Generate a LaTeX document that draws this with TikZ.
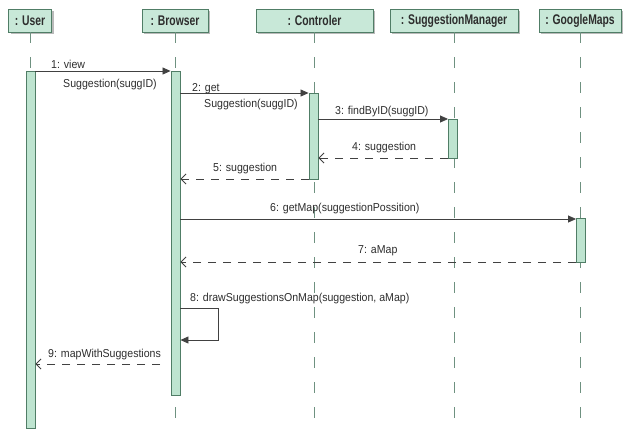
\documentclass[tikz,border=0pt]{standalone}
\usepackage{fontspec}
\setmainfont{Liberation Sans}
\newfontfamily\hdrfont[FakeStretch=0.74]{Liberation Sans}
\newfontfamily\lblfont[FakeStretch=0.92]{Liberation Sans}
\usetikzlibrary{arrows.meta,shadows}
\definecolor{boxfill}{RGB}{200,232,216}
\definecolor{boxline}{RGB}{80,125,102}
\definecolor{actfill}{RGB}{190,228,208}
\definecolor{lifeline}{RGB}{110,145,128}
\definecolor{msg}{RGB}{65,65,65}
\definecolor{txt}{RGB}{45,45,45}
\tikzset{
  header/.style={draw=boxline, fill=boxfill, line width=0.9pt, minimum height=23pt, inner sep=0pt,
    font=\hdrfont\bfseries\fontsize{14}{16}\selectfont, text=txt,
    drop shadow={shadow xshift=2pt, shadow yshift=-2pt, fill=black!45, opacity=0.6}},
  act/.style={draw=boxline, fill=actfill, line width=0.9pt, minimum width=9pt, inner sep=0pt, anchor=north},
  life/.style={draw=lifeline, line width=0.9pt, dash pattern=on 11pt off 14pt},
  call/.style={draw=msg, line width=0.8pt, -{Triangle[length=8pt,width=7pt]}},
  ret/.style={draw=msg, line width=0.8pt, dash pattern=on 8pt off 7pt, -{Straight Barb[length=5pt,width=10pt]}},
  lbl/.style={font=\lblfont\fontsize{11.5}{13}\selectfont, text=txt, inner sep=0pt, anchor=base west},
}
\begin{document}
\begin{tikzpicture}[x=1pt,y=-1pt]
\useasboundingbox (0,0) rectangle (623,432);
% headers
\node[header, minimum width=43pt] (user) at (30,20.5) {: User};
\node[header, minimum width=66pt] (browser) at (175,20.5) {: Browser};
\node[header, minimum width=117pt] (ctrl) at (314.5,20.5) {: Controler};
\node[header, minimum width=128pt] (sm) at (454,20.5) {: SuggestionManager};
\node[header, minimum width=82pt] (gm) at (580,20.5) {: GoogleMaps};
% lifelines
\coordinate (userend) at (30.5,432);
\coordinate (browserend) at (175.5,432);
\coordinate (ctrlend) at (314,432);
\coordinate (smend) at (453,432);
\coordinate (gmend) at (581,432);
\draw[life] (user.south) -- (user.south |- userend);
\draw[life] (browser.south) -- (browser.south |- browserend);
\draw[life] (ctrl.south) -- (ctrl.south |- ctrlend);
\draw[life] (sm.south) -- (sm.south |- smend);
\draw[life] (gm.south) -- (gm.south |- gmend);
% activations
\node[act, minimum height=357pt] (uact) at (30.5,71) {};
\node[act, minimum height=324pt] (bact) at (175.5,71) {};
\node[act, minimum height=86pt] (cact) at (313.5,93) {};
\node[act, minimum height=39pt] (sact) at (453,119) {};
\node[act, minimum height=44pt] (gact) at (581,218) {};
% messages
\draw[call] (uact.east |- 0,71) -- (bact.west |- 0,71);
\node[lbl] (l1a) at (51,68) {1: view};
\node[lbl] (l1b) at (63,87) {Suggestion(suggID)};
\draw[call] (bact.east |- 0,93) -- (cact.west |- 0,93);
\node[lbl] (l2a) at (192,91) {2: get};
\node[lbl] (l2b) at (204,107) {Suggestion(suggID)};
\draw[call] (cact.east |- 0,119) -- (sact.west |- 0,119);
\node[lbl] (l3) at (335,114) {3: findByID(suggID)};
\draw[ret] (sact.west |- 0,158) -- (cact.east |- 0,158);
\node[lbl] (l4) at (352,150) {4: suggestion};
\draw[ret] (cact.west |- 0,179) -- (bact.east |- 0,179);
\node[lbl] (l5) at (213,171) {5: suggestion};
\draw[call] (bact.east |- 0,219) -- (gact.west |- 0,219);
\node[lbl] (l6) at (270,211) {6: getMap(suggestionPossition)};
\draw[ret] (gact.west |- 0,262) -- (bact.east |- 0,262);
\node[lbl] (l7) at (358,253) {7: aMap};
\draw[call] (bact.east |- 0,308) -| (218,340) -- (bact.east |- 0,340);
\node[lbl] (l8) at (190,301) {8: drawSuggestionsOnMap(suggestion, aMap)};
\coordinate (m9s) at (160,364);
\draw[ret] (m9s) -- (uact.east |- m9s);
\node[lbl] (l9) at (48,357) {9: mapWithSuggestions};
\end{tikzpicture}
\end{document}
